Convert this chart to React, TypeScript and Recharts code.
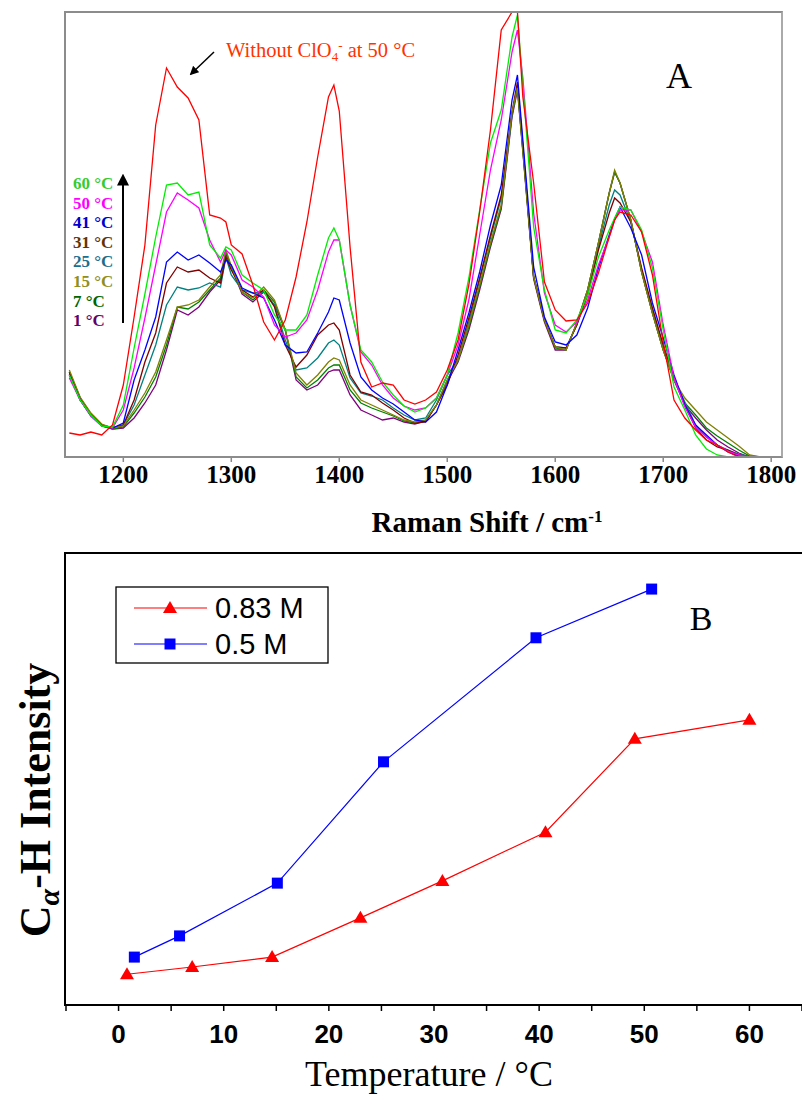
import React from 'react';
import { LineChart, Line, XAxis, YAxis } from 'recharts';

// ---- Panel A: Raman spectra (arbitrary intensity units) ----
const wavenumbers = [
  1150, 1160, 1170, 1180, 1190, 1200, 1210, 1220, 1230, 1240,
  1250, 1260, 1270, 1280, 1290, 1295, 1300, 1310, 1320, 1330,
  1340, 1350, 1360, 1370, 1380, 1390, 1395, 1400, 1410, 1420,
  1430, 1440, 1450, 1460, 1470, 1480, 1490, 1500, 1510, 1520,
  1530, 1540, 1550, 1560, 1565, 1570, 1580, 1590, 1600, 1610,
  1620, 1630, 1640, 1650, 1655, 1660, 1670, 1680, 1690, 1700,
  1710, 1720, 1730, 1740, 1750, 1760, 1770, 1780, 1790, 1800, 1810,
];

const noPerchlorate = [
  24, 22, 25, 22, 32, 72, 140, 212, 332, 389,
  370, 359, 337, 242, 239, 235, 212, 203, 172, 135,
  117, 137, 180, 235, 300, 360, 372, 346, 210, 95,
  70, 74, 72, 57, 53, 57, 65, 87, 117, 172,
  245, 327, 427, 445, 445, 360, 274, 175, 147, 136,
  137, 154, 184, 220, 237, 245, 242, 225, 182, 115,
  57, 39, 27, 17, 12, 5, 0, 0, 0, 0, 0,
];
const t60 = [
  82, 57, 42, 31, 30, 52, 109, 163, 220, 272,
  274, 262, 265, 212, 199, 210, 207, 182, 174, 167,
  142, 127, 127, 142, 182, 219, 229, 217, 152, 107,
  95, 75, 62, 51, 45, 49, 59, 82, 124, 179,
  247, 314, 347, 420, 442, 372, 230, 167, 127, 124,
  137, 162, 200, 227, 239, 250, 247, 227, 189, 127,
  70, 47, 22, 8, 2, 0, 0, 0, 0, null, null,
];
const t50 = [
  79, 57, 41, 31, 29, 47, 89, 139, 192, 245,
  264, 257, 249, 217, 195, 207, 202, 177, 170, 160,
  132, 120, 124, 137, 167, 205, 217, 217, 152, 105,
  92, 72, 59, 51, 47, 49, 59, 82, 112, 157,
  222, 287, 337, 405, 427, 379, 244, 164, 132, 125,
  135, 157, 192, 220, 237, 247, 247, 225, 195, 132,
  79, 50, 30, 20, 12, 6, 2, 0, 0, null, null,
];
const t41 = [
  82, 57, 41, 31, 29, 34, 77, 107, 140, 195,
  205, 197, 202, 194, 185, 197, 192, 169, 164, 159,
  137, 112, 104, 105, 124, 145, 159, 157, 114, 80,
  67, 59, 53, 45, 37, 35, 45, 72, 107, 144,
  185, 232, 272, 357, 382, 317, 190, 140, 115, 112,
  122, 149, 189, 222, 238, 250, 229, 202, 154, 119,
  82, 52, 32, 22, 12, 5, 1, 0, 0, null, null,
];
const t31 = [
  85, 59, 43, 32, 29, 32, 57, 95, 124, 174,
  190, 185, 187, 179, 174, 200, 187, 167, 160, 167,
  150, 112, 90, 102, 122, 132, 134, 127, 82, 65,
  62, 54, 47, 39, 34, 35, 52, 72, 102, 139,
  179, 222, 262, 345, 375, 312, 180, 137, 110, 109,
  132, 162, 207, 244, 259, 254, 235, 189, 149, 112,
  80, 52, 29, 17, 10, 7, 2, 0, 0, null, null,
];
const t25 = [
  85, 59, 43, 32, 29, 32, 52, 82, 112, 152,
  170, 167, 169, 174, 170, 200, 182, 167, 164, 165,
  152, 117, 87, 89, 99, 114, 117, 112, 79, 64,
  61, 57, 49, 42, 37, 39, 57, 82, 97, 135,
  177, 219, 259, 342, 372, 310, 180, 137, 110, 109,
  132, 165, 210, 252, 267, 262, 235, 187, 147, 110,
  79, 55, 32, 20, 12, 7, 3, 0, 0, null, null,
];
const t15 = [
  87, 60, 44, 33, 29, 31, 47, 64, 85, 117,
  150, 152, 157, 170, 182, 207, 191, 165, 159, 170,
  157, 127, 84, 72, 82, 95, 99, 97, 72, 57,
  52, 47, 42, 37, 35, 37, 52, 77, 97, 132,
  172, 214, 252, 345, 369, 307, 180, 137, 110, 107,
  134, 167, 214, 264, 287, 274, 237, 185, 144, 107,
  77, 59, 47, 35, 27, 19, 11, 2, 0, null, null,
];
const t7 = [
  85, 59, 43, 32, 28, 30, 44, 60, 80, 112,
  150, 148, 155, 167, 179, 205, 190, 165, 157, 167,
  155, 127, 80, 69, 77, 89, 92, 92, 67, 54,
  49, 45, 41, 36, 34, 36, 52, 77, 97, 130,
  170, 212, 250, 343, 369, 307, 180, 137, 109, 107,
  134, 167, 214, 264, 285, 274, 237, 185, 144, 107,
  77, 54, 42, 29, 21, 14, 7, 1, 0, null, null,
];
const t1 = [
  83, 57, 42, 31, 28, 29, 39, 54, 72, 107,
  147, 142, 150, 165, 177, 203, 190, 163, 155, 165,
  152, 127, 77, 67, 72, 85, 87, 87, 62, 47,
  42, 37, 39, 35, 33, 36, 52, 75, 95, 127,
  167, 210, 248, 340, 367, 305, 178, 135, 107, 107,
  134, 167, 214, 264, 285, 274, 237, 185, 144, 107,
  77, 52, 39, 27, 17, 10, 4, 0, 0, null, null,
];

// drawing order: bottom first, red on top
const spectra = [
  { key: 's1', values: t1, color: '#800080' },
  { key: 's7', values: t7, color: '#008000' },
  { key: 's25', values: t25, color: '#008080' },
  { key: 's31', values: t31, color: '#800000' },
  { key: 's15', values: t15, color: '#808000' },
  { key: 's41', values: t41, color: '#0000ff' },
  { key: 's50', values: t50, color: '#ff00ff' },
  { key: 's60', values: t60, color: '#00ee00' },
  { key: 'sRed', values: noPerchlorate, color: '#ff0000' },
];

const spectraRows = wavenumbers.map((wn, i) => {
  const row: Record<string, number | null> = { wn };
  spectra.forEach((s) => {
    row[s.key] = s.values[i];
  });
  return row;
});

const ramanTicks = [1200, 1300, 1400, 1500, 1600, 1700, 1800];

const tempLegend = [
  { label: '60 °C', color: '#33cc33' },
  { label: '50 °C', color: '#ff00ff' },
  { label: '41 °C', color: '#0000cc' },
  { label: '31 °C', color: '#663300' },
  { label: '25 °C', color: '#1a6e8e' },
  { label: '15 °C', color: '#8f8f1f' },
  { label: '7 °C', color: '#006600' },
  { label: '1 °C', color: '#660066' },
];

// ---- Panel B: Cα-H intensity vs temperature ----
const temps083 = [0.8, 7.0, 14.6, 23.0, 30.8, 40.6, 49.1, 60.0];
const intensity083 = [6.6, 8.2, 10.4, 19.1, 27.3, 38.1, 58.8, 63.0];
const temps05 = [1.5, 5.8, 15.1, 25.2, 39.7, 50.7];
const intensity05 = [10.4, 15.1, 26.8, 53.7, 81.2, 92.0];

const rows083 = temps083.map((t, i) => ({ t, v: intensity083[i] }));
const rows05 = temps05.map((t, i) => ({ t, v: intensity05[i] }));

const tempTicks = [-5, 0, 5, 10, 15, 20, 25, 30, 35, 40, 45, 50, 55, 60, 65];

const serif = '"Liberation Serif", "Times New Roman", serif';
const sans = '"Liberation Sans", Arial, sans-serif';

const TriangleDot = (props: any) => {
  const { cx, cy, index } = props;
  if (cx == null || cy == null) return null;
  return (
    <path
      key={`tri-${index}`}
      d={`M${cx},${cy - 7} L${cx + 7},${cy + 5} L${cx - 7},${cy + 5} Z`}
      fill="#ff0000"
    />
  );
};

const SquareDot = (props: any) => {
  const { cx, cy, index } = props;
  if (cx == null || cy == null) return null;
  return <rect key={`sq-${index}`} x={cx - 5.5} y={cy - 5.5} width={11} height={11} fill="#0000ff" />;
};

export default function App() {
  return (
    <div
      style={{
        position: 'absolute',
        left: 0,
        top: 0,
        width: 802,
        height: 1095,
        overflow: 'hidden',
        background: '#fff',
      }}
    >
      {/* Panel A */}
      <div style={{ position: 'absolute', left: 0, top: 0 }}>
        <LineChart width={802} height={545} data={spectraRows} margin={{ top: 12, right: 20, bottom: 48, left: 65 }}>
          <XAxis
            dataKey="wn"
            type="number"
            domain={[1146, 1810]}
            ticks={ramanTicks}
            allowDataOverflow
            axisLine={false}
            tickLine={{ stroke: '#888', strokeWidth: 1.5 }}
            tickSize={5}
            tickMargin={3}
            height={40}
            tick={{ fill: '#000', fontFamily: serif, fontWeight: 'bold', fontSize: 25 }}
          />
          <YAxis hide domain={[0, 445]} allowDataOverflow />
          {spectra.map((s) => (
            <Line
              key={s.key}
              dataKey={s.key}
              type="linear"
              stroke={s.color}
              strokeWidth={1.3}
              dot={false}
              activeDot={false}
              isAnimationActive={false}
            />
          ))}
        </LineChart>
      </div>
      <div
        style={{
          position: 'absolute',
          left: 64,
          top: 11,
          width: 719,
          height: 447,
          boxSizing: 'border-box',
          border: '2px solid #8c8c8c',
          borderRightColor: '#aaaaaa',
        }}
      />

      {/* Panel B */}
      <div style={{ position: 'absolute', left: 0, top: 540 }}>
        <LineChart width={806} height={555} margin={{ top: 13, right: 4, bottom: 31, left: 66 }}>
          <XAxis
            dataKey="t"
            type="number"
            domain={[-5, 65]}
            ticks={tempTicks}
            allowDataOverflow
            axisLine={false}
            tickLine={{ stroke: '#000', strokeWidth: 1.5 }}
            tickSize={7}
            tickMargin={14}
            height={60}
            interval={0}
            tickFormatter={(v: number) => (v % 10 === 0 && v >= 0 && v <= 60 ? String(v) : '')}
            tick={{ fill: '#000', fontFamily: sans, fontWeight: 'bold', fontSize: 26 }}
          />
          <XAxis
            xAxisId="top"
            orientation="top"
            type="number"
            domain={[-5, 65]}
            ticks={tempTicks}
            axisLine={false}
            tickLine={{ stroke: '#000', strokeWidth: 1.2 }}
            tickSize={5}
            mirror
            tick={false}
            height={0}
          />
          <YAxis hide domain={[0, 100]} allowDataOverflow />
          <Line
            data={rows083}
            dataKey="v"
            type="linear"
            stroke="#ff0000"
            strokeWidth={1.2}
            dot={TriangleDot}
            activeDot={false}
            isAnimationActive={false}
          />
          <Line
            data={rows05}
            dataKey="v"
            type="linear"
            stroke="#0000ff"
            strokeWidth={1.2}
            dot={SquareDot}
            activeDot={false}
            isAnimationActive={false}
          />
        </LineChart>
      </div>
      <div
        style={{
          position: 'absolute',
          left: 64,
          top: 552,
          width: 760,
          height: 454,
          boxSizing: 'border-box',
          border: '2px solid #000',
        }}
      />

      {/* Annotations, titles and legends */}
      <svg
        width={802}
        height={1095}
        style={{ position: 'absolute', left: 0, top: 0, pointerEvents: 'none' }}
      >
        <defs>
          <marker id="head" viewBox="0 0 10 10" refX="8" refY="5" markerWidth="6" markerHeight="6" orient="auto">
            <path d="M0,0 L10,5 L0,10 Z" fill="#000" />
          </marker>
        </defs>

        <text x={226} y={57} fill="#ff3300" fontFamily={serif} fontSize={20.5}>
          Without ClO
          <tspan dy={4} fontSize={13}>4</tspan>
          <tspan dy={-11} fontSize={13}>-</tspan>
          <tspan dy={7}> at 50 °C</tspan>
        </text>
        <line x1={214} y1={52} x2={191} y2={74} stroke="#000" strokeWidth={1.5} markerEnd="url(#head)" />

        {tempLegend.map((d, i) => (
          <text
            key={d.label}
            x={73}
            y={189 + i * 19.6}
            fill={d.color}
            fontFamily={serif}
            fontWeight="bold"
            fontSize={17}
          >
            {d.label}
          </text>
        ))}
        <line x1={123} y1={323} x2={123} y2={176} stroke="#000" strokeWidth={2} markerEnd="url(#head)" />

        <text x={679} y={88} textAnchor="middle" fontFamily={serif} fontSize={36}>
          A
        </text>

        <text x={487} y={532} textAnchor="middle" fontFamily={serif} fontWeight="bold" fontSize={29}>
          Raman Shift / cm
          <tspan dy={-10} fontSize={17}>-1</tspan>
        </text>

        {/* legend B */}
        <rect x={116} y={587} width={212} height={76} fill="none" stroke="#000" strokeWidth={1.3} />
        <line x1={134} y1={608} x2={207} y2={608} stroke="#ff0000" strokeWidth={1.2} />
        <path d="M170,601 L177,613 L163,613 Z" fill="#ff0000" />
        <text x={215} y={618} fontFamily={sans} fontSize={29}>
          0.83 M
        </text>
        <line x1={134} y1={644} x2={207} y2={644} stroke="#0000ff" strokeWidth={1.2} />
        <rect x={164.5} y={638.5} width={11} height={11} fill="#0000ff" />
        <text x={215} y={654} fontFamily={sans} fontSize={29}>
          0.5 M
        </text>

        <text x={701} y={630} textAnchor="middle" fontFamily={serif} fontSize={34}>
          B
        </text>

        <text x={429} y={1086} textAnchor="middle" fontFamily={serif} fontSize={36}>
          Temperature / °C
        </text>

        <text
          transform="translate(50,800) rotate(-90)"
          textAnchor="middle"
          fontFamily={serif}
          fontWeight="bold"
          fontSize={44}
        >
          C
          <tspan dy={9} fontSize={30} fontStyle="italic">α</tspan>
          <tspan dy={-9}>-H Intensity</tspan>
        </text>
      </svg>
    </div>
  );
}
